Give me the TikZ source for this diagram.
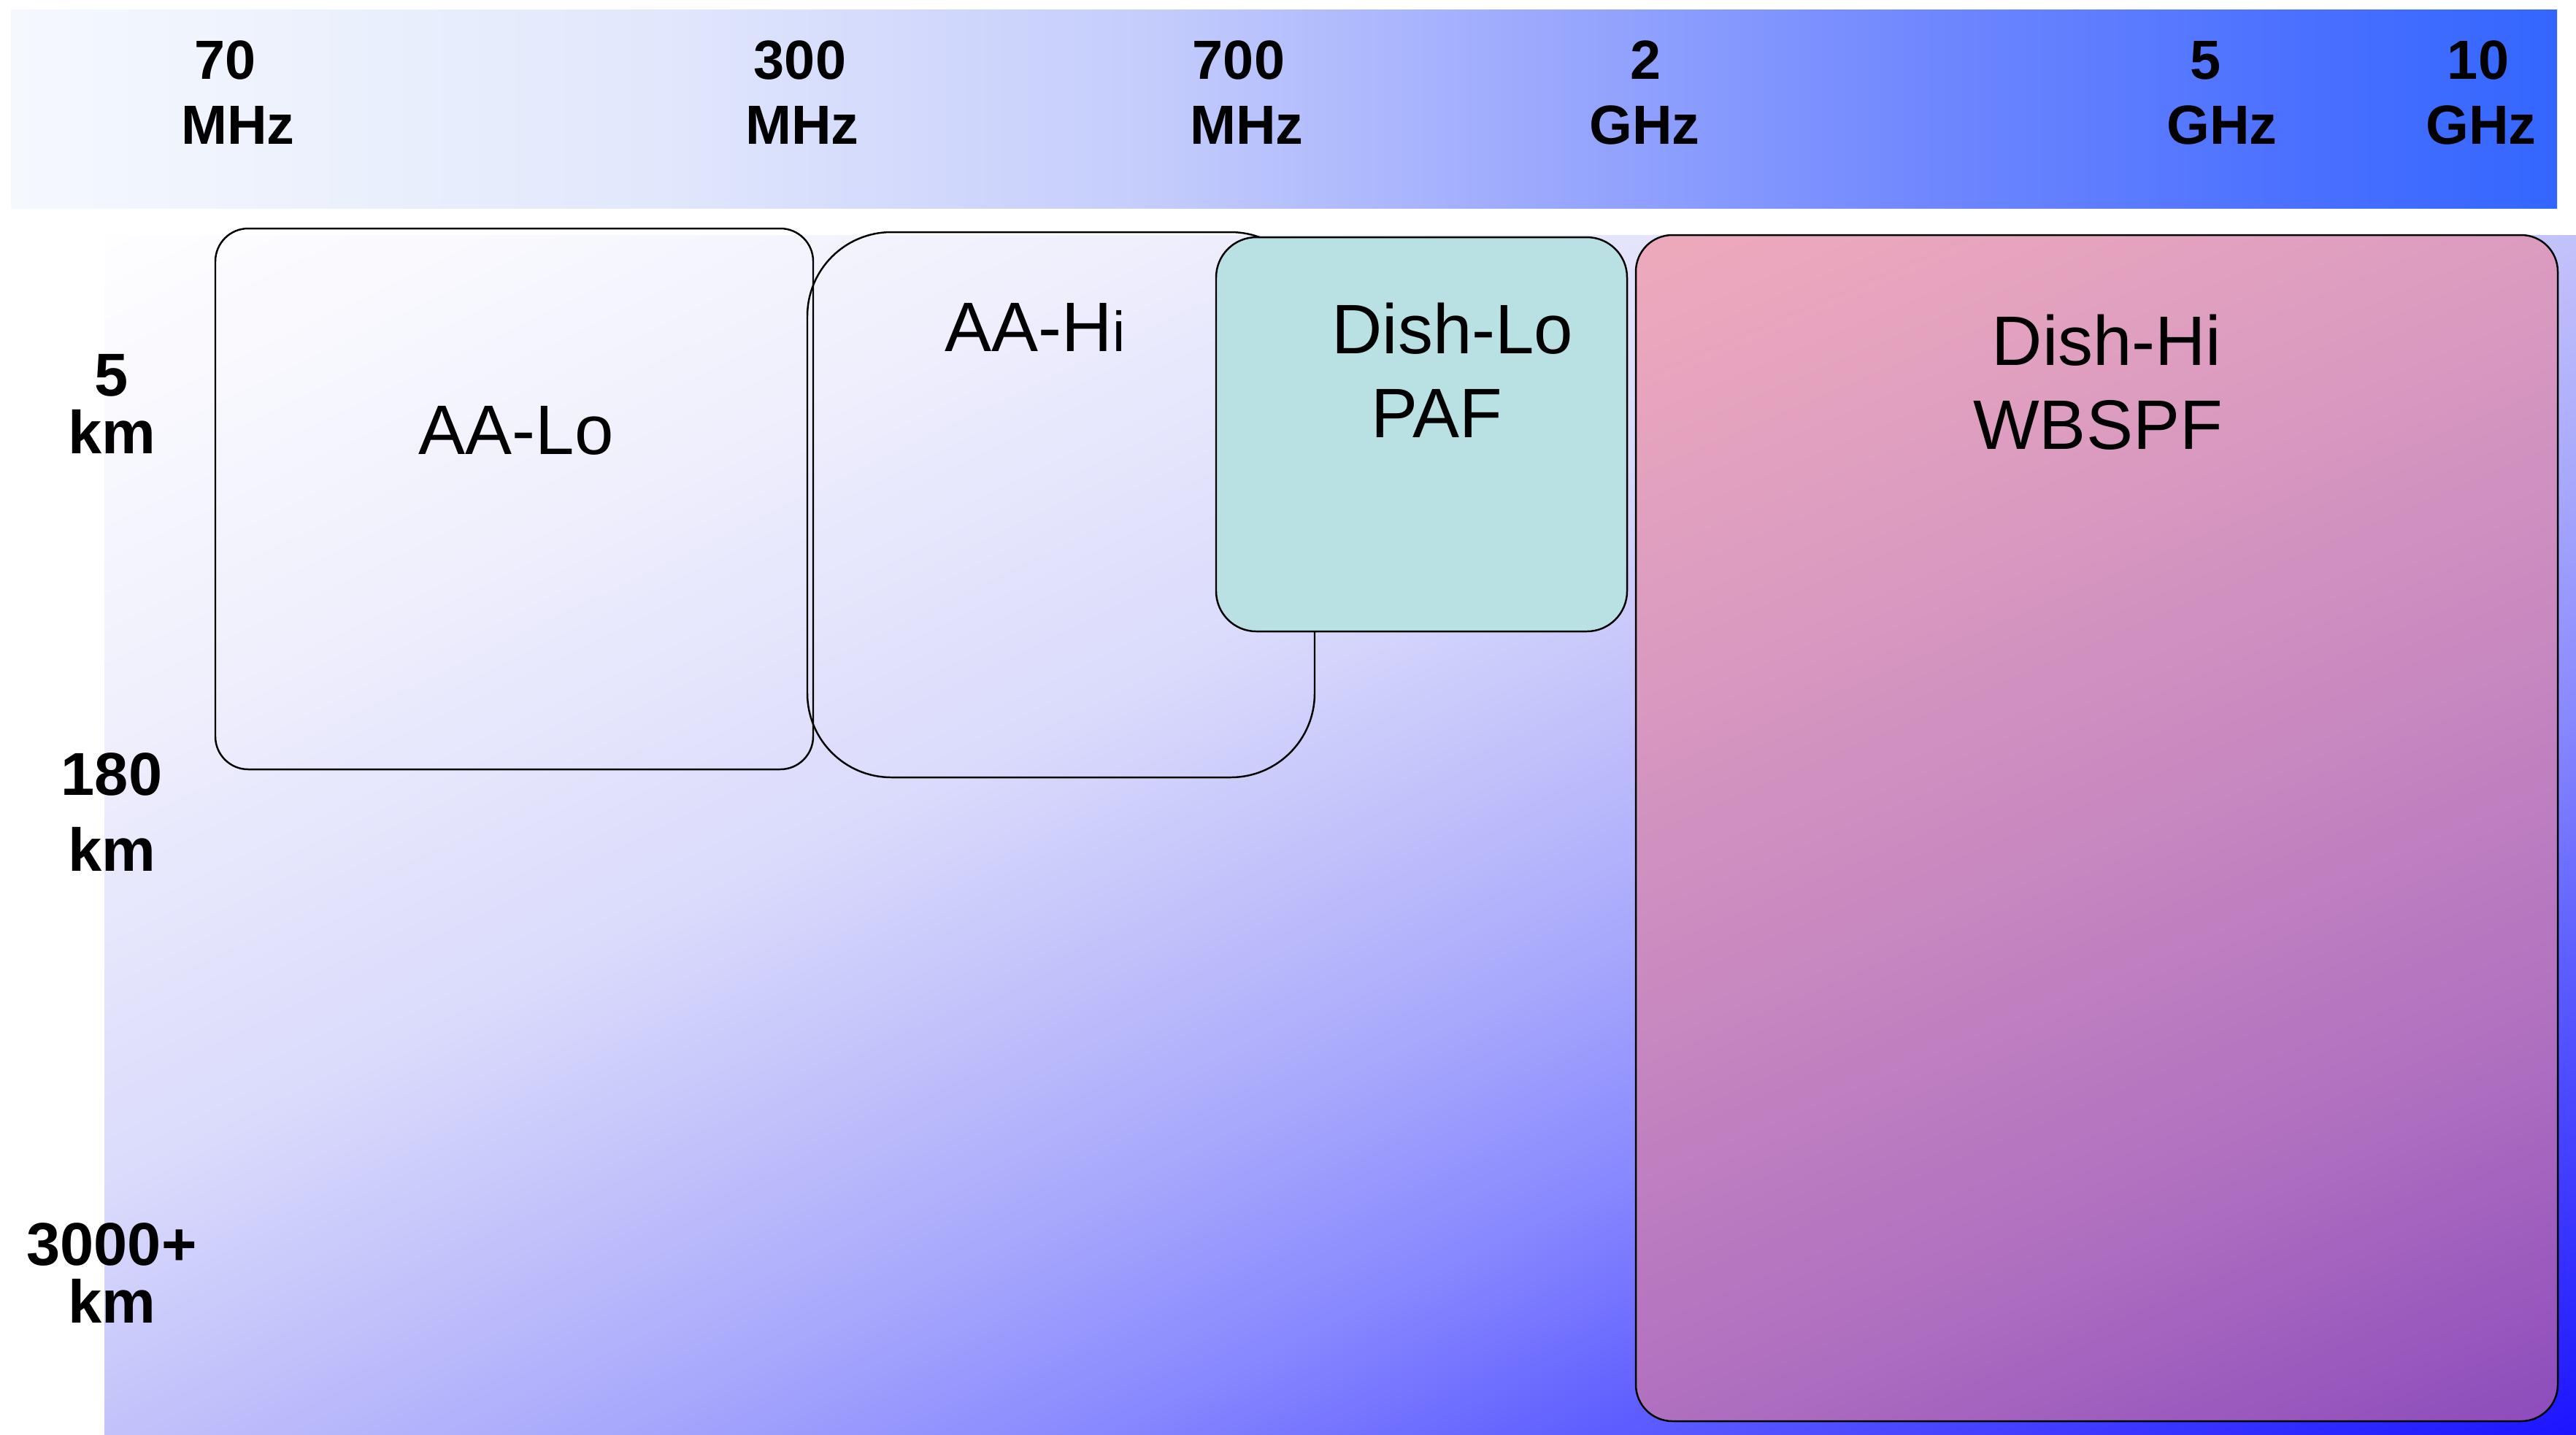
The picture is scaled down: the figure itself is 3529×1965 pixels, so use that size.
\documentclass[tikz,border=0pt]{standalone}
\usepackage{fontspec}
\setmainfont{Liberation Sans}

% colour stops of the frequency band
\definecolor{bandA}{HTML}{F5F9FE}
\definecolor{bandB}{HTML}{E2E8FC}
\definecolor{bandC}{HTML}{C4CCFC}
\definecolor{bandD}{HTML}{9BA9FD}
\definecolor{bandE}{HTML}{7088FE}
\definecolor{bandF}{HTML}{4A70FF}
\definecolor{bandG}{HTML}{3366FF}
% colour stops of the baseline/frequency panel
\definecolor{panA}{HTML}{FEFEFF}
\definecolor{panB}{HTML}{F0F0FD}
\definecolor{panC}{HTML}{DADAFC}
\definecolor{panD}{HTML}{C2C2FB}
\definecolor{panE}{HTML}{A8A8FC}
\definecolor{panF}{HTML}{8888FF}
\definecolor{panG}{HTML}{5E5EFF}
\definecolor{panH}{HTML}{1C14FF}
% colour stops of the Dish-Hi box
\definecolor{hiA}{HTML}{EEAABC}
\definecolor{hiB}{HTML}{DC9CC0}
\definecolor{hiC}{HTML}{C888C0}
\definecolor{hiD}{HTML}{B070C0}
\definecolor{hiE}{HTML}{8C4CBC}
\definecolor{pafteal}{HTML}{B9E0E2}

% every ramp runs from its first colour at 20bp to its last colour at 80bp
\pgfdeclarehorizontalshading{bandramp}{100bp}{color(0bp)=(bandA); color(20bp)=(bandA);
  color(35bp)=(bandB); color(47bp)=(bandC); color(56bp)=(bandD); color(65bp)=(bandE);
  color(74bp)=(bandF); color(80bp)=(bandG); color(100bp)=(bandG)}
\pgfdeclarehorizontalshading{panelramp}{100bp}{color(0bp)=(panA); color(20bp)=(panA);
  color(32bp)=(panB); color(44bp)=(panC); color(50bp)=(panD); color(56bp)=(panE);
  color(62bp)=(panF); color(68bp)=(panG); color(80bp)=(panH); color(100bp)=(panH)}
\pgfdeclarehorizontalshading{hiramp}{100bp}{color(0bp)=(hiA); color(20bp)=(hiA);
  color(35bp)=(hiB); color(50bp)=(hiC); color(65bp)=(hiD); color(80bp)=(hiE);
  color(100bp)=(hiE)}

\tikzset{
  ramp/.style={overlay, inner sep=0pt, outer sep=0pt, transform shape},
  region/.style={draw=black, line width=0.7pt},
  tick/.style={font={\fontsize{21.5}{24}\selectfont\bfseries}, inner sep=0pt, anchor=base},
  dist/.style={font={\fontsize{23.6}{26}\selectfont\bfseries}, inner sep=0pt, anchor=base},
  lbl/.style={font={\fontsize{27.3}{30}\selectfont}, inner sep=0pt, anchor=base},
}

\begin{document}
\begin{tikzpicture}[x=0.01cm, y=-0.01cm]
\useasboundingbox (0,0) rectangle (3529,1965);
\fill[white] (0,0) rectangle (3529,1965);

% frequency band along the top
\begin{scope}
  \clip (15,13) rectangle (3503,285);
  \begin{scope}[shift={(1759,149)}, xscale={34.88/2.1167}, yscale={2.72/2.1167}]
    \node[ramp] (bandfill) at (0,0) {\pgfuseshading{bandramp}};
  \end{scope}
\end{scope}

% baseline / frequency panel
\begin{scope}
  \clip (143,322) rectangle (3530,1966);
  \begin{scope}[shift={(1836.5,1144)}, xscale={33.87/1.4967}, yscale={16.44/1.4967}]
    \node[ramp, rotate=-45] (panelfill) at (0,0) {\pgfuseshading{panelramp}};
  \end{scope}
\end{scope}

% aperture array regions
\draw[region, rounded corners=0.45cm] (295,313) rectangle (1114,1054);
\draw[region, rounded corners=1.15cm] (1106,318) rectangle (1801,1065);

% dish regions
\draw[region, fill=pafteal, rounded corners=0.55cm] (1666,325) rectangle (2229,865);
\begin{scope}
  \clip[rounded corners=0.5cm] (2241,322) rectangle (3504,1947);
  \begin{scope}[shift={(2872.5,1134.5)}, xscale={12.63/1.6733}, yscale={16.25/1.6733}]
    \node[ramp, rotate=-71.565] (hifill) at (0,0) {\pgfuseshading{hiramp}};
  \end{scope}
\end{scope}
\draw[region, rounded corners=0.5cm] (2241,322) rectangle (3504,1947);

% frequency ticks
\node[tick] (f70)   at (309,108)  {70};
\node[tick] (f70u)  at (326,197)  {MHz};
\node[tick] (f300)  at (1096,108) {300};
\node[tick] (f300u) at (1099,197) {MHz};
\node[tick] (f700)  at (1697,108) {700};
\node[tick] (f700u) at (1708,197) {MHz};
\node[tick] (f2)    at (2255,108) {2};
\node[tick] (f2u)   at (2253,197) {GHz};
\node[tick] (f5)    at (3021,108) {5};
\node[tick] (f5u)   at (3044,197) {GHz};
\node[tick] (f10)   at (3395,108) {10};
\node[tick] (f10u)  at (3399,197) {GHz};

% baseline ticks
\node[dist] (b5)     at (153,542)  {5};
\node[dist] (b5u)    at (153,621)  {km};
\node[dist] (b180)   at (153,1089) {180};
\node[dist] (b180u)  at (153,1193) {km};
\node[dist] (b3000)  at (153,1733) {3000+};
\node[dist] (b3000u) at (153,1812) {km};

% region labels
\node[lbl] (aalo)   at (707,622)   {AA-Lo};
\node[lbl] (aahi)   at (1418,481)  {AA-H{\fontsize{22}{24}\selectfont i}};
\node[lbl] (dishlo) at (1990,484)  {Dish-Lo};
\node[lbl] (paf)    at (1968,599)  {PAF};
\node[lbl] (dishhi) at (2886,500)  {Dish-Hi};
\node[lbl] (wbspf)  at (2874,615)  {WBSPF};
\end{tikzpicture}
\end{document}
